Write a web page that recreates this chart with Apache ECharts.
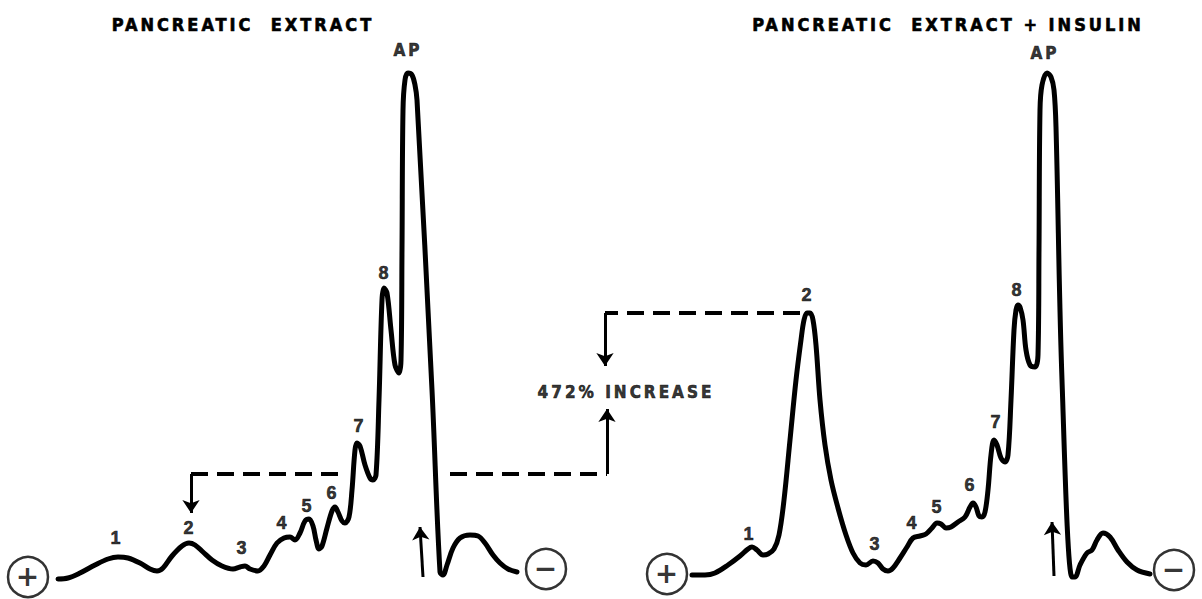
<!DOCTYPE html>
<html>
<head>
<meta charset="utf-8">
<script src="https://cdn.jsdelivr.net/npm/echarts@6/dist/echarts.min.js"></script>
<style>
  html, body { margin: 0; padding: 0; background: #fff; }
  #chart { width: 1202px; height: 599px; letter-spacing: 3px; white-space: pre; }
</style>
</head>
<body>
<div id="chart"></div>
<script>
// Densitometer scans of the electrophoresis strips: [migration, absorbance]
const extractTrace = [
  [58,20],[68,21],[80,26],[95,34],[108,40],[118,42],[128,41],[140,36],[150,30],[157,28],
  [163,31],[172,43],[182,53],[189,56],[195,54],[203,47],[212,39],[222,33],[233,30],[240,32],
  [245,33],[250,30],[258,28],[264,33],[270,44],[277,56],[284,61],[290,62],[295,59],[300,66],
  [305,78],[309,80],[313,73],[316,59],[319,50],[322,53],[327,71],[332,88],[335,92],[338,87],
  [342,78],[345,76],[349,82],[352,109],[355,149],[357,156],[360,153],[365,134],[370,121],[373,119],
  [376,124],[379,199],[382,299],[384,311],[387,306],[391,269],[395,234],[399,226],[401,239],[402,349],
  [403,489],[405,519],[408,526],[412,524],[415,514],[417,499],[432,209],[440,27],[443,24],[447,34],
  [453,51],[460,61],[470,64],[478,63],[485,56],[493,44],[500,36],[508,30],[517,27]
];
const insulinTrace = [
  [692,24],[705,24],[715,26],[728,34],[740,43],[748,50],[752,52],[757,49],[763,44],[768,45],
  [774,50],[779,64],[784,99],[790,159],[796,219],[801,259],[804,279],[807,286],[810,286],[813,279],
  [816,254],[820,199],[825,154],[831,119],[838,91],[846,64],[853,46],[860,36],[866,34],[873,38],
  [878,36],[883,30],[888,28],[893,31],[900,41],[907,52],[913,61],[920,63],[926,65],[932,71],
  [937,76],[941,75],[946,71],[951,72],[958,77],[965,82],[970,92],[973,96],[976,92],[979,83],
  [982,82],[985,87],[988,109],[991,144],[994,159],[997,154],[1001,141],[1005,137],[1008,144],[1011,199],
  [1014,269],[1016,289],[1018,294],[1020,292],[1023,279],[1026,249],[1030,234],[1035,232],[1038,244],[1039,349],
  [1040,489],[1042,514],[1047,526],[1051,522],[1054,509],[1056,472],[1062,219],[1072,22],[1075,22],[1080,34],
  [1087,46],[1092,49],[1097,59],[1103,66],[1110,62],[1118,49],[1127,37],[1137,29],[1150,25]
];

// Fraction names and their peak positions
const bandNames = ['1', '2', '3', '4', '5', '6', '7', '8', 'AP'];
const extractPeaks = [[118,42],[189,56],[245,33],[290,62],[309,80],[335,92],[357,156],[384,311],[408,526]];
const insulinPeaks = [[752,52],[808,286],[873,38],[920,63],[937,76],[973,96],[994,159],[1018,294],[1047,526]];

// Electrode ends of each strip
const electrodeSigns = ['+', '\u2212', '+', '\u2212'];
const electrodeSpots = [[28,22],[546,30],[667,25],[1174,29]];

// Sample application points
const applicationArrows = [[[423,22],[420,72]], [[1054,23],[1052,77]]];

// Comparison of fraction 2 between the two scans
const compareDashes = [[[191,125],[347,125]], [[450,125],[607,125]], [[800,286],[605,286]]];
const compareArrows = [[[191,125],[191,86]], [[607,125],[607,190]], [[605,286],[605,233]]];
const increaseText = '472% INCREASE';
const increaseSpot = [626, 207];

const panelTitles = ['PANCREATIC  EXTRACT', 'PANCREATIC  EXTRACT + INSULIN'];

// label nudges (px) relative to each peak
const extractNudge = [[-1,-19],[1,-15],[-2,-18],[-7,-14],[-1,-13],[-2,-14],[3,-17],[1,-15],[0,-23]];
const insulinNudge = [[-2,-13],[0,-18],[3,-17],[-7,-13],[1,-16],[-2,-18],[3,-18],[0,-15],[-2,-20]];

const ink = '#000';
const capsFamily = 'Liberation Sans Narrow, DejaVu Sans Condensed, Roboto Condensed, sans-serif';
// a thin stroke of the same ink keeps the small lettering solid black
const numFont = { fontFamily: 'Liberation Sans', fontWeight: 'bold', fontSize: 18, color: ink,
                  textBorderColor: ink, textBorderWidth: 0.6, textShadowBlur: 0 };
const capsFont = { fontFamily: capsFamily, fontWeight: 900, color: ink,
                   textBorderColor: ink, textBorderWidth: 0.6 };

function bandLabelData(peaks, nudge) {
  return peaks.map((p, i) => ({
    value: p,
    name: bandNames[i],
    label: bandNames[i] === 'AP'
      ? Object.assign({ offset: nudge[i], fontSize: 17 }, capsFont)
      : { offset: nudge[i] }
  }));
}

function traceSeries(name, data) {
  return {
    name, type: 'line', data, showSymbol: false, smooth: 0.35,
    lineStyle: { color: ink, width: 5, cap: 'round', join: 'round' },
    z: 3, silent: true
  };
}

const chart = echarts.init(document.getElementById('chart'), null, { renderer: 'svg' });
chart.setOption({
  animation: false,
  backgroundColor: '#fff',
  title: [
    { text: panelTitles[0], left: 238, top: 10, textAlign: 'center',
      textStyle: Object.assign({ fontSize: 18 }, capsFont) },
    { text: panelTitles[1], left: 943, top: 10, textAlign: 'center',
      textStyle: Object.assign({ fontSize: 18 }, capsFont) }
  ],
  grid: { left: 0, right: 0, top: 0, bottom: 0 },
  xAxis: { type: 'value', min: 0, max: 1202, show: false },
  yAxis: { type: 'value', min: 0, max: 599, show: false },
  series: [
    traceSeries('Pancreatic extract', extractTrace),
    traceSeries('Pancreatic extract + insulin', insulinTrace),
    {
      type: 'lines', coordinateSystem: 'cartesian2d', silent: true, z: 2,
      data: compareDashes.map(c => ({ coords: c })),
      lineStyle: { color: ink, width: 4, type: [17, 9], opacity: 1 },
      symbol: 'none'
    },
    {
      type: 'lines', coordinateSystem: 'cartesian2d', silent: true, z: 2,
      data: compareArrows.concat(applicationArrows).map(c => ({ coords: c })),
      lineStyle: { color: ink, width: 3, opacity: 1 },
      symbol: ['none', 'arrow'], symbolSize: [0, 13]
    },
    {
      type: 'scatter', silent: true, z: 4,
      data: electrodeSpots.map((p, i) => ({ value: p, name: electrodeSigns[i] })),
      symbol: 'circle', symbolSize: 40,
      itemStyle: { color: '#fff', borderColor: ink, borderWidth: 2.5 },
      label: { show: true, position: 'inside', formatter: '{b}', fontSize: 28,
               fontWeight: 'bold', color: ink, fontFamily: 'DejaVu Sans', offset: [1, -1],
               textBorderWidth: 0 }
    },
    {
      type: 'scatter', silent: true, z: 5, symbolSize: 0,
      data: bandLabelData(extractPeaks, extractNudge).concat(bandLabelData(insulinPeaks, insulinNudge)),
      label: Object.assign({ show: true, position: 'inside', formatter: '{b}' }, numFont)
    },
    {
      type: 'scatter', silent: true, z: 5, symbolSize: 0,
      data: [{ value: increaseSpot, name: increaseText }],
      label: Object.assign({ show: true, position: 'inside', formatter: '{b}', fontSize: 17 }, capsFont)
    }
  ]
});
</script>
</body>
</html>
